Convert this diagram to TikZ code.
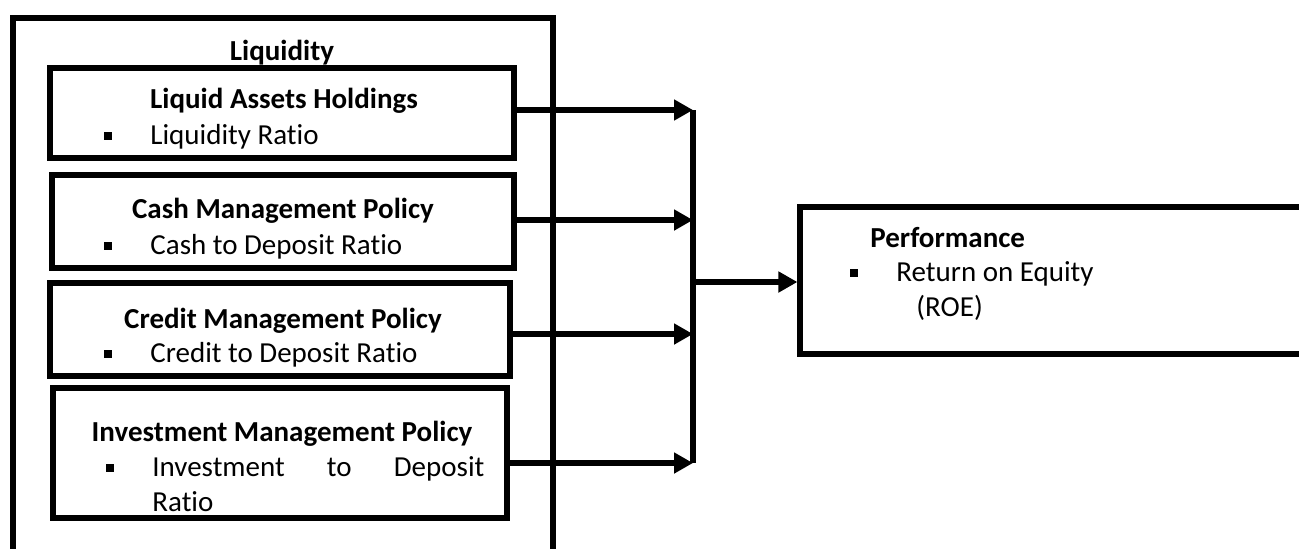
\documentclass[tikz,border=0pt]{standalone}
\usepackage{fontspec}
\setmainfont{Carlito}[Ligatures=NoCommon]
\usetikzlibrary{arrows.meta,positioning,fit}
\newcommand{\diagfont}{\fontsize{14.5pt}{18pt}\selectfont}
\tikzset{
    frame box/.style={draw,line width=2.6pt,inner sep=0pt},
    head text/.style={anchor=base,inner sep=0pt,font=\diagfont\bfseries},
    item text/.style={anchor=base west,inner sep=0pt,font=\diagfont},
    bar line/.style={line width=2.6pt},
    flow arrow/.style={line width=2.6pt,-{Triangle[length=9.5pt,width=10pt]}}
}
\newcommand{\bulitem}[1]{\makebox[23pt][l]{\rule[2.2pt]{3.6pt}{3.6pt}}#1}

\begin{document}
\begin{tikzpicture}[x=0.5pt,y=-0.5pt,font=\diagfont]
\useasboundingbox (0,0) rectangle (1299,548);
\clip (0,0) rectangle (1299,548);

% ========= Liquidity block =========
\node[frame box,fit={(13,18) (553,570)}] (liq) {};
\node[head text] (liqT) at (282,60) {Liquidity};

% == liquid assets ==%
\node[frame box,fit={(50,68) (514,158)}] (lah) {};
\node[head text] (lahT) at (284,108) {Liquid Assets Holdings};
\node[item text] (lahB) at (104,144) {\bulitem{Liquidity Ratio}};

% == cash ==%
\node[frame box,fit={(52,175) (514,268)}] (cmp) {};
\node[head text] (cmpT) at (283,218) {Cash Management Policy};
\node[item text] (cmpB) at (104,254) {\bulitem{Cash to Deposit Ratio}};

% == credit ==%
\node[frame box,fit={(50,283) (510,376)}] (crm) {};
\node[head text] (crmT) at (283,328) {Credit Management Policy};
\node[item text] (crmB) at (104,362) {\bulitem{Credit to Deposit Ratio}};

% == investment ==%
\node[frame box,fit={(53,388) (507,518)}] (imp) {};
\node[head text] (impT) at (282,441) {Investment Management Policy};
\node[item text] (impB) at (106,476) {\bulitem{\makebox[166pt][l]{Investment\hfill to\hfill Deposit}}};
\node[item text] (impC) at (152,511) {Ratio};

% ========= Performance =========
\node[frame box,fit={(800,207) (1320,354)}] (perf) {};
\node[head text,anchor=base west] (perfT) at (870,247) {Performance};
\node[item text] (perfB) at (850,281) {\bulitem{Return on Equity}};
\node[item text] (perfC) at (916,316) {(ROE)};

% ========= Connectors =========
\coordinate (j1) at (693,110);
\coordinate (j2) at (693,220);
\coordinate (j3) at (693,334);
\coordinate (j4) at (693,463);
\coordinate (jm) at (693,282);

\draw[bar line] (j1) -- (j4);
\draw[flow arrow] (lah.east |- j1) -- (j1);
\draw[flow arrow] (cmp.east |- j2) -- (j2);
\draw[flow arrow] (crm.east |- j3) -- (j3);
\draw[flow arrow] (imp.east |- j4) -- (j4);
\draw[flow arrow] (jm) -- (jm -| perf.west);

\end{tikzpicture}
\end{document}
